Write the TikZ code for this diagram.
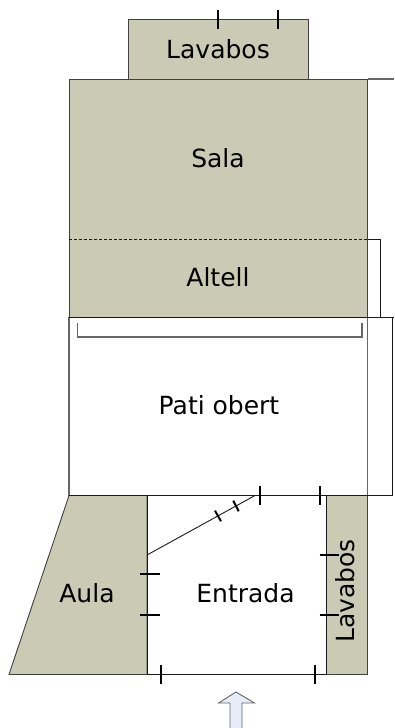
\documentclass[tikz,border=0pt]{standalone}
\usepackage{fontspec}
\setmainfont{DejaVu Sans}
\definecolor{roomfill}{HTML}{CBCBB5}
\definecolor{arrowfill}{HTML}{E6ECF8}
\begin{document}
\begin{tikzpicture}[x=1pt,y=-1pt,
room/.style={
fill=roomfill,
draw=black!75,
line width=0.9pt,
},
wall/.style={
draw=black!90,
line width=0.9pt,
},
thinwall/.style={
draw=black!60,
line width=1.1pt,
},
door/.style={
draw=black,
line width=2pt,
},
label/.style={
font={\fontsize{25pt}{28}\selectfont},
text=black,
inner sep=0pt,
},
]
\useasboundingbox(0,0)rectangle(394,728);
% rooms
\draw[room](128.5,19)rectangle(308,79);
\draw[room](69,79)rectangle(367.5,317);
\draw[room](69,495.5)--(147,495.5)--(147,674.5)--(9,674.5)--cycle;
\draw[room](326,495.5)rectangle(367.5,674.5);
\draw[thinwall](69,317)--(69,495.5);
\draw[thinwall](367.5,317)--(367.5,495.5);
\draw[thinwall](367.5,79)--(394,79);
% walls
\draw[wall,densely dashed,line width=0.8pt](69,239)--(367.5,239);
\draw[wall](367.5,239)--(380,239)--(380,317);
\draw[wall](69,317)--(394,317);
\draw[wall](392,317)--(392,495.5)--(69,495.5);
\draw[thinwall](77.5,323)--(77.5,337)--(362,337)--(362,323);
\draw[wall](147,495.5)--(147,674.5)--(326,674.5)--(326,495.5);
\draw[wall](147,555)--(255,495.5);
% doors
\foreach \x in {218,278}{
\draw[door](\x,10)--(\x,29);
}
\foreach \x in {260,320}{
\draw[door](\x,486)--(\x,505);
}
\foreach \x in {161,314.5}{
\draw[door](\x,665)--(\x,684);
}
\foreach \y in {573.5,615}{
\draw[door](140,\y)--(160,\y);
}
\foreach \y in {555,615}{
\draw[door](319.5,\y)--(339,\y);
}
\draw[door](215,510.7)--(221,521.3);
\draw[door](233.3,500.7)--(238.7,511.3);
% entrance
\draw[draw=black!60,fill=arrowfill,line width=0.9pt](230,728)--(230,703)--(218.5,703)--(236,692)--(254.5,703)--(242,703)--(242,728);
% labels
\node[label](lavabosn)at(218,49){Lavabos};
\node[label](sala)at(218,158){Sala};
\node[label](altell)at(218,277){Altell};
\node[label](pati)at(219,405){Pati obert};
\node[label](aula)at(87,593){Aula};
\node[label](entrada)at(245.5,593){Entrada};
\node[label,rotate=90](lavabose)at(345,591){Lavabos};
\end{tikzpicture}
\end{document}
